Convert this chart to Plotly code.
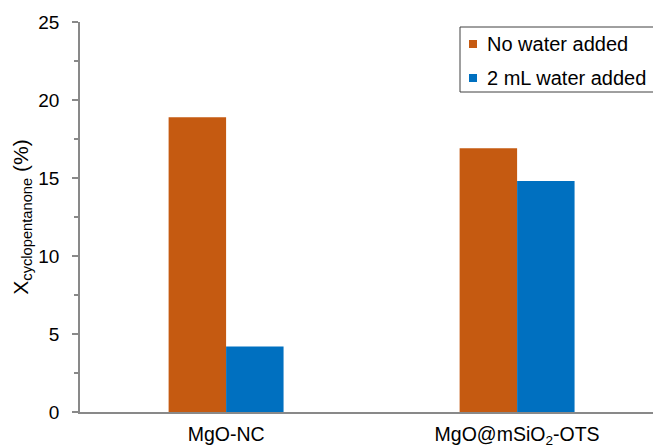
import plotly.graph_objects as go

catalysts = ["MgO-NC", "MgO@mSiO<sub>2</sub>-OTS"]
series_names = ["No water added", "2 mL water added"]
no_water = [18.9, 16.9]
with_water = [4.2, 14.8]
colors = ["#C55A11", "#0070C0"]

fig = go.Figure()
for name, vals, col in zip(series_names, [no_water, with_water], colors):
    fig.add_trace(go.Bar(x=catalysts, y=vals, name=name, marker_color=col,
                         marker_line_width=0, showlegend=False))

# plot area geometry in pixels (used to place the hand-drawn legend box)
W, H = 653, 448
L, R, T, B = 80, 0, 22, 36
pw, ph = W - L - R, H - T - B


def px_x(p):
    return (p - L) / pw


def px_y(p):
    return (H - B - p) / ph


# legend frame, swatches and labels
shapes = [dict(type="rect", xref="paper", yref="paper",
               x0=px_x(460), x1=px_x(665), y0=px_y(92), y1=px_y(27),
               line=dict(color="#404040", width=1), fillcolor="white", layer="above")]
annotations = []
for i, (name, col) in enumerate(zip(series_names, colors)):
    cy = 44 + 34 * i
    shapes.append(dict(type="rect", xref="paper", yref="paper",
                       x0=px_x(469), x1=px_x(477), y0=px_y(cy + 4), y1=px_y(cy - 4),
                       line=dict(width=0), fillcolor=col, layer="above"))
    annotations.append(dict(xref="paper", yref="paper", x=px_x(485), y=px_y(cy),
                            xanchor="left", yanchor="middle", text=name,
                            showarrow=False, font=dict(size=20, color="#000000")))

axis_col = "#898989"
fig.update_layout(
    width=W, height=H,
    margin=dict(l=L, r=R, t=T, b=B, autoexpand=False),
    paper_bgcolor="white", plot_bgcolor="white",
    font=dict(family="Liberation Sans, Arial", size=19, color="#000000"),
    barmode="group", bargap=0.605, bargroupgap=0,
    showlegend=False,
    shapes=shapes, annotations=annotations,
)
fig.update_xaxes(
    range=[-0.502, 1.467], showline=True, linecolor=axis_col, linewidth=1.8,
    ticks="", showgrid=False, ticklabelstandoff=4, automargin=False,
    tickfont=dict(size=19.5),
)
fig.update_yaxes(
    range=[0, 25], dtick=5, showline=True, linecolor=axis_col, linewidth=1.8,
    ticks="outside", ticklen=6, tickcolor=axis_col, tickwidth=1.5,
    minor=dict(dtick=2.5, ticks="outside", ticklen=4, tickcolor=axis_col, tickwidth=1.5),
    showgrid=False, zeroline=False, tickfont=dict(size=19), automargin=False,
    ticklabelstandoff=9,
    title=dict(text="X<sub>cyclopentanone</sub> (%)", font=dict(size=21), standoff=4),
)

fig.write_html("out.html")
